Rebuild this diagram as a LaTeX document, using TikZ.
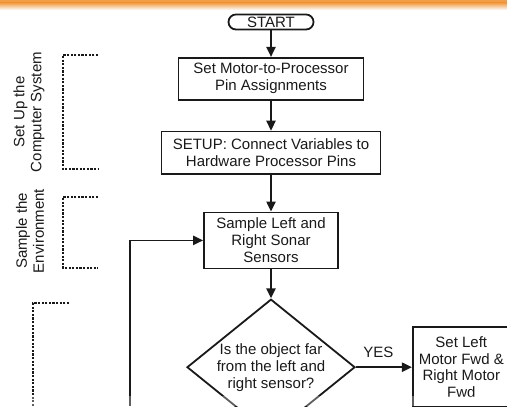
\documentclass[tikz,border=0pt]{standalone}
\usepackage{fontspec}
\setmainfont{Liberation Sans}
\usepackage{xcolor}
\usepackage{tikz}
\usetikzlibrary{arrows.meta, positioning, shapes.geometric}
\definecolor{bandorange}{RGB}{242, 158, 72}
\definecolor{inkblack}{RGB}{25, 25, 25}

\begin{document}
\begin{tikzpicture}[
    x=0.5pt, y=-0.5pt,
    every node/.style={font=\fontsize{7.5}{8.5}\selectfont, text=inkblack},
    terminal/.style={rectangle, rounded corners=3.7pt, draw=inkblack, line width=0.9pt, minimum width=42.5pt, minimum height=7.5pt, inner sep=0.5pt},
    procbox/.style={rectangle, draw=inkblack, line width=0.9pt, align=center, inner sep=1pt},
    decision/.style={diamond, draw=inkblack, line width=0.9pt, align=center, aspect=1.235, inner sep=0pt, minimum width=84pt, minimum height=68pt},
    arr/.style={-{Triangle[length=5pt, width=4.6pt]}, line width=0.9pt, draw=inkblack},
    plain/.style={line width=0.9pt, draw=inkblack},
    bracket/.style={line width=1.1pt, draw=inkblack, dash pattern=on 1.1pt off 0.7pt},
    sidelabel/.style={rotate=90, align=center}
]
\useasboundingbox (0,0) rectangle (507,406);
\clip (0,0) rectangle (507,406);

% Scan edge at the top
\fill[bandorange] (0,0) rectangle (507,3);
\shade[top color=bandorange, bottom color=white] (0,3) rectangle (507,10);

% Main column
\node[terminal] (start) at (271,22) {START};
\node[procbox, minimum width=92.5pt, minimum height=21pt, below=13.25pt of start] (pins) {Set Motor-to-Processor\\Pin Assignments};
\node[procbox, minimum width=109.5pt, minimum height=21pt, below=15pt of pins] (setup) {SETUP: Connect Variables to\\Hardware Processor Pins};
\node[procbox, minimum width=67pt, minimum height=28pt, below=18.5pt of setup] (sense) {Sample Left and\\Right Sonar\\Sensors};
\node[decision, below=14.5pt of sense] (check) {Is the object far\\from the left and\\right sensor?};

% Right branch
\node[procbox, minimum width=48.5pt, minimum height=40pt, right=28pt of check, font=\fontsize{7.5}{8.2}\selectfont] (fwd) {Set Left\\Motor Fwd \&\\Right Motor\\Fwd};

% Arrows
\draw[arr] (start) -- (pins);
\draw[arr] (pins) -- (setup);
\draw[arr] (setup) -- (sense);
\draw[arr] (sense) -- (check);
\draw[arr] (check) -- node[above=1pt, pos=0.4] (yes) {YES} (fwd);

% Loop back into the sampling step
\coordinate (loopin) at (130,406);
\draw[arr] (loopin) |- (sense.west);
\coordinate (fwdout) at (460,412);
\draw[plain] (fwd.south -| fwdout) -- (fwdout);

% Side labels and brackets
\node[sidelabel] (lblsetup) at (29,112) {Set Up the\\Computer System};
\draw[bracket] (98,55) -| (63,169) -- (98,169);
\node[sidelabel] (lblsample) at (30,231) {Sample the\\Environment};
\draw[bracket] (98,197) -| (63,268) -- (98,268);
\draw[bracket] (69,303) -| (33,410);

% Scan edge at the bottom
\fill[white, opacity=0.3] (0,396) rectangle (507,406);

\end{tikzpicture}
\end{document}
